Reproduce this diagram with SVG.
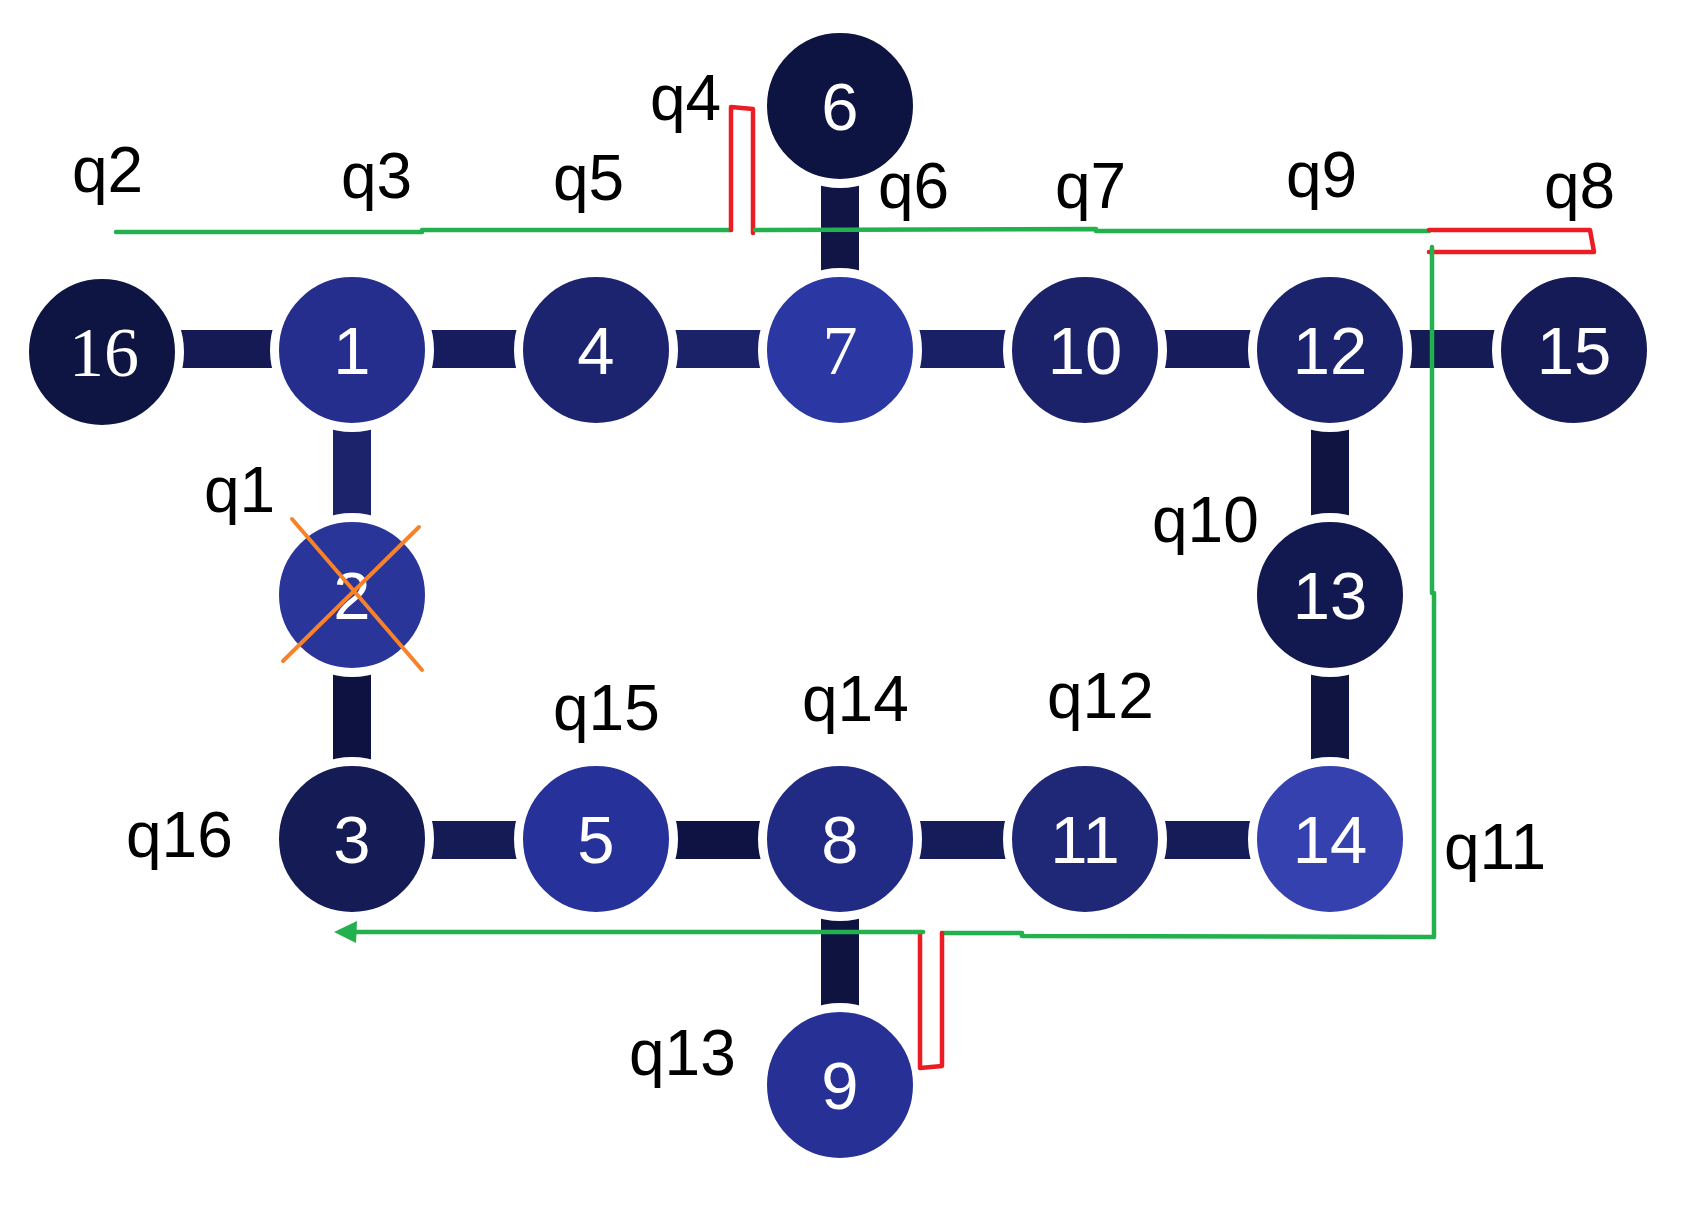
<svg xmlns="http://www.w3.org/2000/svg" width="1686" height="1211" viewBox="0 0 1686 1211">
<style>
.bar{stroke-width:38;fill:none}
.node{stroke:#ffffff;stroke-width:9}
.nt{font-family:"Liberation Sans",Arial,sans-serif;font-size:67px;fill:#ffffff;text-anchor:middle}
.ns{font-family:"Liberation Serif","Times New Roman",serif;font-size:70px;fill:#ffffff;text-anchor:middle}
.lbl{font-family:"Liberation Sans",Arial,sans-serif;font-size:64px;fill:#000000}
.g{stroke:#22b14c;stroke-width:4.5;fill:none;stroke-linecap:round;stroke-linejoin:round}
.r{stroke:#ed1c24;stroke-width:4.5;fill:none;stroke-linecap:round;stroke-linejoin:round}
.x{stroke:#f7822a;stroke-width:4;stroke-linecap:round}
</style>
<rect width="1686" height="1211" fill="#ffffff"/>
<g id="edges">
<line class="bar" x1="102" y1="349" x2="352" y2="349" stroke="#151a55"/>
<line class="bar" x1="352" y1="349" x2="596" y2="349" stroke="#171c5f"/>
<line class="bar" x1="596" y1="349" x2="840" y2="349" stroke="#1b2267"/>
<line class="bar" x1="840" y1="349" x2="1085" y2="349" stroke="#1a2066"/>
<line class="bar" x1="1085" y1="349" x2="1330" y2="349" stroke="#171c5c"/>
<line class="bar" x1="1330" y1="349" x2="1574" y2="349" stroke="#151b55"/>
<line class="bar" x1="840" y1="106" x2="840" y2="350" stroke="#101545"/>
<line class="bar" x1="352" y1="350" x2="352" y2="595" stroke="#1c236a"/>
<line class="bar" x1="1330" y1="350" x2="1330" y2="595" stroke="#0f1440"/>
<line class="bar" x1="352" y1="595" x2="352" y2="840" stroke="#0d1240"/>
<line class="bar" x1="1330" y1="595" x2="1330" y2="840" stroke="#0f1440"/>
<line class="bar" x1="352" y1="840" x2="596" y2="840" stroke="#151b55"/>
<line class="bar" x1="596" y1="840" x2="840" y2="840" stroke="#0e1343"/>
<line class="bar" x1="840" y1="840" x2="1085" y2="840" stroke="#161c59"/>
<line class="bar" x1="1085" y1="840" x2="1330" y2="840" stroke="#161c58"/>
<line class="bar" x1="840" y1="840" x2="840" y2="1085" stroke="#0e1340"/>
</g>
<g id="n16"><circle class="node" cx="102" cy="352" r="77.5" fill="#0e1543"/><text class="ns" x="104" y="376">16</text></g>
<g id="n1"><circle class="node" cx="352" cy="350" r="77.5" fill="#252e8c"/><text class="nt" x="352" y="374">1</text></g>
<g id="n4"><circle class="node" cx="596" cy="350" r="77.5" fill="#1c2470"/><text class="nt" x="596" y="374">4</text></g>
<g id="n7"><circle class="node" cx="840" cy="350" r="77.5" fill="#2b37a2"/><text class="ns" x="840" y="374">7</text></g>
<g id="n10"><circle class="node" cx="1085" cy="350" r="77.5" fill="#1b226a"/><text class="nt" x="1085" y="374">10</text></g>
<g id="n12"><circle class="node" cx="1330" cy="350" r="77.5" fill="#1b236d"/><text class="nt" x="1330" y="374">12</text></g>
<g id="n15"><circle class="node" cx="1574" cy="350" r="77.5" fill="#151b56"/><text class="nt" x="1574" y="374">15</text></g>
<g id="n6"><circle class="node" cx="840" cy="106" r="77.5" fill="#0d1441"/><text class="nt" x="840" y="130">6</text></g>
<g id="n2"><circle class="node" cx="352" cy="595" r="77.5" fill="#2a3599"/><text class="nt" x="352" y="619">2</text></g>
<g id="n13"><circle class="node" cx="1330" cy="595" r="77.5" fill="#121850"/><text class="nt" x="1330" y="619">13</text></g>
<g id="n3"><circle class="node" cx="352" cy="839" r="77.5" fill="#141b55"/><text class="nt" x="352" y="863">3</text></g>
<g id="n5"><circle class="node" cx="596" cy="839" r="77.5" fill="#27319a"/><text class="nt" x="596" y="863">5</text></g>
<g id="n8"><circle class="node" cx="840" cy="839" r="77.5" fill="#222b84"/><text class="nt" x="840" y="863">8</text></g>
<g id="n11"><circle class="node" cx="1085" cy="839" r="77.5" fill="#1f2877"/><text class="nt" x="1085" y="863">11</text></g>
<g id="n14"><circle class="node" cx="1330" cy="839" r="77.5" fill="#3541ae"/><text class="nt" x="1330" y="863">14</text></g>
<g id="n9"><circle class="node" cx="840" cy="1085" r="77.5" fill="#273195"/><text class="nt" x="840" y="1109">9</text></g>
<g id="cross">
<line class="x" x1="292" y1="519" x2="422" y2="670"/>
<line class="x" x1="419" y1="527" x2="283" y2="661"/>
</g>
<g id="connectors">
<polyline class="g" points="116,232 422,232 422,230 731,230"/>
<polyline class="r" points="731,230 731,107 753,109 753,233"/>
<polyline class="g" points="755,230 1096,229 1096,231 1429,231"/>
<polyline class="r" points="1429,230 1590,230 1594,252 1429,252"/>
<polyline class="g" points="1432,247 1432,593 1434,593 1434,937 1022,936 1022,933 942,933"/>
<polyline class="r" points="942,933 942,1066 920,1068 920,933"/>
<polyline class="g" points="923,932 352,932"/>
<polygon points="334,932 357,921 356,943" fill="#22b14c"/>
</g>
<g id="labels">
<text class="lbl" x="72" y="192">q2</text>
<text class="lbl" x="341" y="198">q3</text>
<text class="lbl" x="553" y="200">q5</text>
<text class="lbl" x="650" y="120">q4</text>
<text class="lbl" x="878" y="208">q6</text>
<text class="lbl" x="1055" y="208">q7</text>
<text class="lbl" x="1286" y="197">q9</text>
<text class="lbl" x="1544" y="208">q8</text>
<text class="lbl" x="204" y="512">q1</text>
<text class="lbl" x="1152" y="542">q10</text>
<text class="lbl" x="553" y="730">q15</text>
<text class="lbl" x="802" y="721">q14</text>
<text class="lbl" x="1047" y="718">q12</text>
<text class="lbl" x="126" y="857">q16</text>
<text class="lbl" x="1444" y="869">q11</text>
<text class="lbl" x="629" y="1075">q13</text>
</g>
</svg>
